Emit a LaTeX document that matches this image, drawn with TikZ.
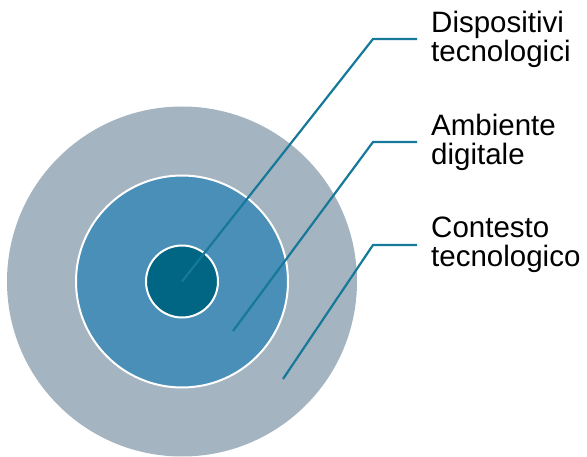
\documentclass[tikz,border=0pt]{standalone}
\usepackage{fontspec}
\setmainfont{Liberation Sans}
\definecolor{ringouter}{HTML}{A5B4C1}
\definecolor{ringmid}{HTML}{4A8FB7}
\definecolor{ringinner}{HTML}{006683}
\definecolor{leader}{HTML}{16799A}
\begin{document}
\begin{tikzpicture}[x=1pt,y=-1pt,
  ring/.style={circle,draw=white,line width=2pt,inner sep=0pt},
  leaderline/.style={draw=leader,line width=2.2pt},
  label/.style={anchor=base west,align=left,inner sep=0pt,
    font=\fontsize{29.5}{29.5}\selectfont,text=black}]
  \useasboundingbox (0,0) rectangle (587,457);
  % concentric rings
  \node[ring,fill=ringouter,draw=none,minimum size=350pt] (ctx) at (182,281.5) {};
  \node[ring,fill=ringmid,minimum size=212pt] (env) at (182,281.5) {};
  \node[ring,fill=ringinner,minimum size=72pt] (dev) at (182,281.5) {};
  % labels (anchored on the baseline of the second line)
  \node[label] (lbl1) at (431,62) {Dispositivi\\tecnologici};
  \node[label] (lbl2) at (431,165) {Ambiente\\digitale};
  \node[label] (lbl3) at (431,267) {Contesto\\tecnologico};
  % leader lines
  \coordinate (k1) at (373,39);  \coordinate (e1) at (417,39);
  \coordinate (s2) at (233,331); \coordinate (k2) at (373,142); \coordinate (e2) at (417,142);
  \coordinate (s3) at (283,379); \coordinate (k3) at (373,245); \coordinate (e3) at (417,245);
  \draw[leaderline] (dev.center) -- (k1) -- (e1);
  \draw[leaderline] (s2) -- (k2) -- (e2);
  \draw[leaderline] (s3) -- (k3) -- (e3);
\end{tikzpicture}
\end{document}
